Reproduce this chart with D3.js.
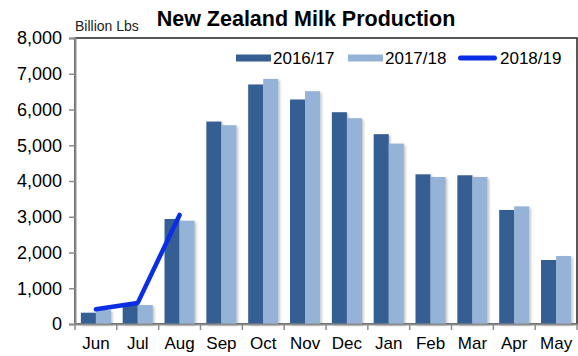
<!DOCTYPE html>
<html>
<head>
<meta charset="utf-8">
<script src="https://cdn.jsdelivr.net/npm/d3@7"></script>
<style>
	body { margin: 0; background: #fff; }
	text { font-family: "Liberation Sans", Arial, sans-serif; fill: #000; }
</style>
</head>
<body>
<div id="canvas"></div>
<script>
var width = 578,
	height = 356;

var months = ["Jun", "Jul", "Aug", "Sep", "Oct", "Nov", "Dec", "Jan", "Feb", "Mar", "Apr", "May"];
var prod1617 = [316, 540, 2937, 5663, 6700, 6280, 5924, 5310, 4187, 4160, 3189, 1790];
var prod1718 = [392, 530, 2890, 5560, 6856, 6512, 5757, 5047, 4113, 4113, 3290, 1902];
var prod1819 = [410, 590, 3050];
var yTicks = [0, 1000, 2000, 3000, 4000, 5000, 6000, 7000, 8000];

var margin = {top: 38, right: 1, bottom: 32, left: 75};
var plotW = width - margin.left - margin.right,
	plotH = height - margin.top - margin.bottom;

var svg = d3.select("#canvas").append("svg")
	.attr("width", width)
	.attr("height", height);

var defs = svg.append("defs");
var shadow = defs.append("filter").attr("id", "shadow")
	.attr("x", "-20%").attr("y", "-20%").attr("width", "150%").attr("height", "150%");
shadow.append("feDropShadow")
	.attr("dx", 1.5).attr("dy", 1.5).attr("stdDeviation", 1)
	.attr("flood-color", "#000").attr("flood-opacity", 0.25);

var g = svg.append("g")
	.attr("transform", "translate(" + margin.left + "," + margin.top + ")");

var x0 = d3.scaleBand()
	.domain(months)
	.range([0, plotW])
	.paddingInner(0.28)
	.paddingOuter(0.14);

var x1 = d3.scaleBand()
	.domain(["a", "b"])
	.range([0, x0.bandwidth()]);

var y = d3.scaleLinear()
	.domain([0, 8000])
	.range([plotH, 0]);

// gridlines
g.selectAll(".grid")
	.data(yTicks.slice(1, -1))
	.enter().append("line")
	.attr("x1", 0).attr("x2", plotW)
	.attr("y1", function(d){ return y(d); })
	.attr("y2", function(d){ return y(d); })
	.attr("stroke", "#8c8c8c")
	.attr("stroke-width", 1.5)
	.attr("filter", "url(#shadow)");

// plot border
g.append("rect")
	.attr("x", 0).attr("y", 0)
	.attr("width", plotW).attr("height", plotH)
	.attr("fill", "none")
	.attr("stroke", "#222")
	.attr("stroke-width", 1.5);

// bars
var groups = g.selectAll(".month")
	.data(months)
	.enter().append("g")
	.attr("transform", function(d){ return "translate(" + x0(d) + ",0)"; });

groups.append("rect")
	.attr("x", x1("a"))
	.attr("width", x1.bandwidth())
	.attr("y", function(d, i){ return y(prod1617[i]); })
	.attr("height", function(d, i){ return plotH - y(prod1617[i]); })
	.attr("fill", "#355e92")
	.attr("filter", "url(#shadow)");

groups.append("rect")
	.attr("x", x1("b"))
	.attr("width", x1.bandwidth())
	.attr("y", function(d, i){ return y(prod1718[i]); })
	.attr("height", function(d, i){ return plotH - y(prod1718[i]); })
	.attr("fill", "#95b3d7")
	.attr("filter", "url(#shadow)");

// axes
var yAxis = g.append("g")
	.call(d3.axisLeft(y).tickValues(yTicks).tickSize(6).tickFormat(d3.format(",")));
yAxis.select(".domain").attr("stroke", "#8c8c8c").attr("stroke-width", 2);
yAxis.selectAll(".tick line").attr("stroke", "#8c8c8c").attr("stroke-width", 1.5);
yAxis.selectAll(".tick text")
	.attr("x", -13)
	.style("font-size", "18px");

var xAxis = g.append("g")
	.attr("transform", "translate(0," + plotH + ")")
	.call(d3.axisBottom(x0).tickSize(0).tickSizeOuter(0));
xAxis.select(".domain").attr("stroke", "#8c8c8c").attr("stroke-width", 2);
xAxis.selectAll(".tick text")
	.attr("dy", "1.3em")
	.style("font-size", "17px");

// category separators
g.selectAll(".xsep")
	.data(d3.range(months.length + 1))
	.enter().append("line")
	.attr("x1", function(i){ return i * x0.step(); })
	.attr("x2", function(i){ return i * x0.step(); })
	.attr("y1", plotH).attr("y2", plotH + 6)
	.attr("stroke", "#8c8c8c")
	.attr("stroke-width", 1.5);

// 2018/19 line
var line = d3.line()
	.x(function(d, i){ return x0(months[i]) + x0.bandwidth() / 2; })
	.y(function(d){ return y(d); });

g.append("path")
	.datum(prod1819)
	.attr("d", line)
	.attr("fill", "none")
	.attr("stroke", "#0a2ee3")
	.attr("stroke-width", 4.5)
	.attr("stroke-linecap", "round")
	.attr("stroke-linejoin", "round");

// legend
var legendItems = [
	{name: "2016/17", type: "bar", color: "#355e92", x: 236},
	{name: "2017/18", type: "bar", color: "#95b3d7", x: 348},
	{name: "2018/19", type: "line", color: "#0a2ee3", x: 458}
];
var legend = svg.selectAll(".legend")
	.data(legendItems)
	.enter().append("g")
	.attr("transform", function(d){ return "translate(" + d.x + ",58)"; });

legend.append("rect")
	.attr("x", 0)
	.attr("y", function(d){ return d.type === "bar" ? -3.5 : -2.5; })
	.attr("width", function(d){ return d.type === "bar" ? 35 : 39; })
	.attr("height", function(d){ return d.type === "bar" ? 7 : 5; })
	.attr("rx", function(d){ return d.type === "bar" ? 0 : 2.5; })
	.attr("fill", function(d){ return d.color; });

legend.append("text")
	.attr("x", function(d){ return d.type === "bar" ? 37 : 42; })
	.attr("y", 6)
	.style("font-size", "17px")
	.text(function(d){ return d.name; });

// title
svg.append("text")
	.attr("x", 306)
	.attr("y", 26)
	.attr("text-anchor", "middle")
	.style("font-size", "21.5px")
	.style("font-weight", "bold")
	.text("New Zealand Milk Production");

svg.append("text")
	.attr("x", 75)
	.attr("y", 31)
	.style("font-size", "14px")
	.style("fill", "#222")
	.text("Billion Lbs");
</script>
</body>
</html>
